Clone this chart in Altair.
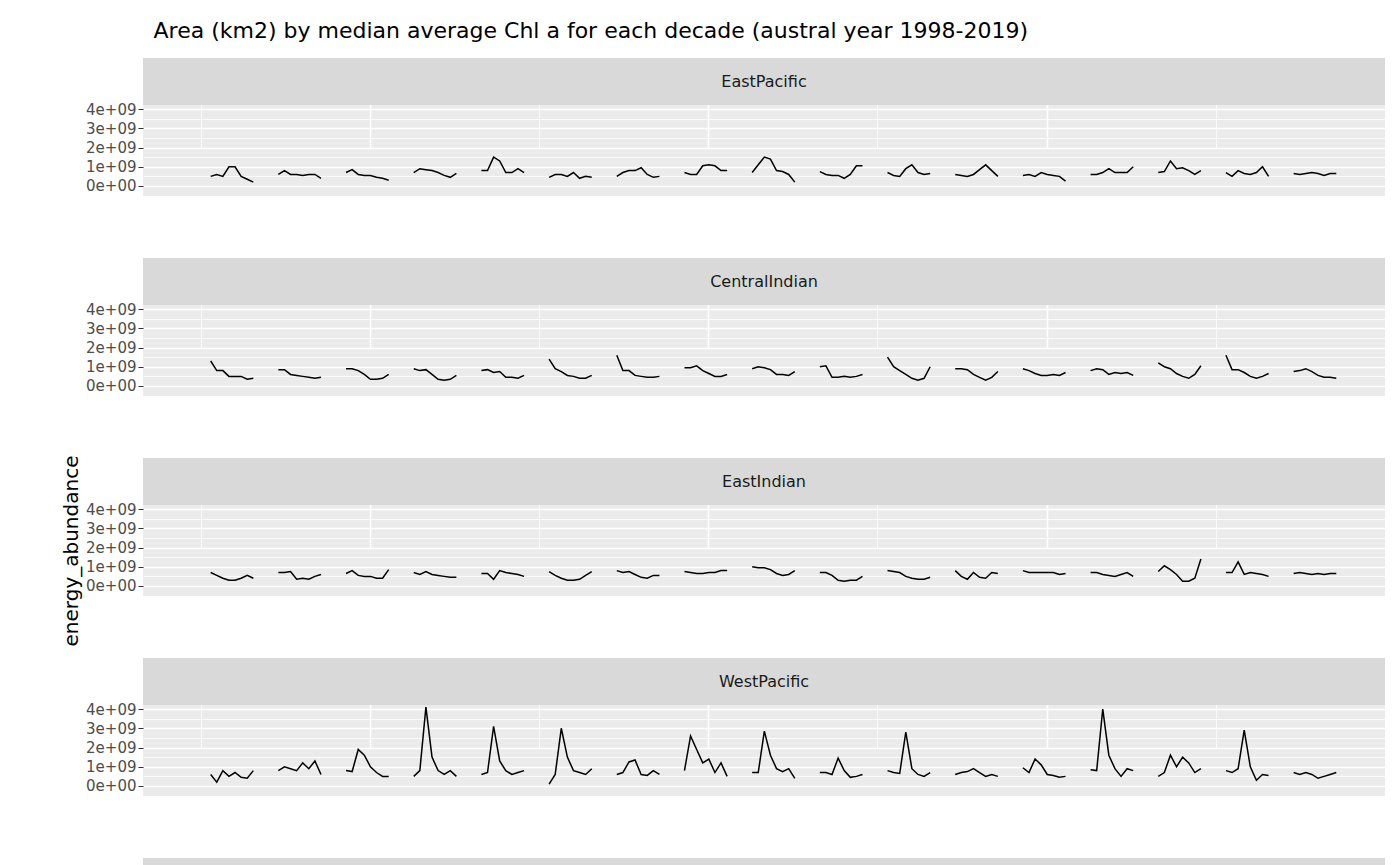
"Faceted energy abundance line chart, ggplot look"

import pandas as pd
import altair as alt

regions = ["EastPacific", "CentralIndian", "EastIndian", "WestPacific", "NA"]
seasons = list(range(2002, 2019))
# fractional year offsets of the 8 points inside each austral season
offsets = [0.65, 0.74, 0.83, 0.92, 1.01, 1.10, 1.19, 1.28]

# values in units of 1e9, one row of 8 per season (2002..2018)
east_pacific = [
    [.5, .6, .5, 1.0, 1.0, .5, .35, .2], [.6, .8, .6, .6, .55, .6, .6, .4],
    [.7, .85, .6, .55, .55, .45, .4, .3], [.7, .9, .85, .8, .7, .55, .45, .65],
    [.8, .8, 1.5, 1.3, .7, .7, .9, .7], [.45, .6, .6, .5, .7, .4, .5, .45],
    [.5, .7, .8, .8, .95, .6, .45, .5], [.7, .6, .6, 1.05, 1.1, 1.05, .8, .8],
    [.7, 1.1, 1.5, 1.4, .8, .75, .6, .2], [.75, .6, .55, .55, .4, .6, 1.05, 1.05],
    [.7, .55, .5, .9, 1.1, .7, .6, .65], [.6, .55, .5, .6, .85, 1.1, .8, .5],
    [.55, .6, .5, .7, .6, .55, .5, .25], [.6, .6, .7, .9, .7, .7, .7, 1.0],
    [.7, .75, 1.3, .9, .95, .8, .6, .8], [.7, .5, .8, .65, .6, .7, 1.0, .5],
    [.65, .6, .65, .7, .65, .55, .65, .65],
]
central_indian = [
    [1.3, .8, .8, .5, .5, .5, .35, .4], [.85, .85, .6, .55, .5, .45, .4, .45],
    [.9, .9, .8, .6, .35, .35, .4, .6], [.9, .8, .85, .6, .35, .3, .35, .55],
    [.8, .85, .7, .75, .45, .45, .4, .55], [1.4, .9, .75, .55, .5, .4, .4, .55],
    [1.6, .8, .8, .55, .5, .45, .45, .5], [.95, .95, 1.05, .8, .65, .5, .5, .6],
    [.9, 1.0, .95, .85, .6, .6, .55, .75], [1.0, 1.05, .45, .45, .5, .45, .5, .6],
    [1.5, 1.0, .8, .6, .4, .3, .4, 1.0], [.9, .9, .85, .6, .45, .3, .45, .75],
    [.9, .8, .65, .55, .55, .6, .55, .7], [.8, .9, .85, .6, .7, .65, .7, .55],
    [1.2, 1.0, .9, .65, .5, .4, .6, 1.05], [1.6, .85, .85, .7, .5, .4, .5, .65],
    [.75, .8, .9, .75, .55, .45, .45, .4],
]
east_indian = [
    [.7, .55, .4, .3, .3, .4, .55, .4], [.7, .7, .75, .35, .4, .35, .5, .6],
    [.65, .8, .55, .5, .5, .4, .4, .85], [.7, .6, .75, .6, .55, .5, .45, .45],
    [.65, .65, .35, .8, .7, .65, .6, .5], [.75, .55, .4, .3, .3, .35, .55, .75],
    [.8, .7, .75, .6, .45, .4, .55, .55], [.75, .7, .65, .65, .7, .7, .8, .8],
    [1.0, .95, .95, .85, .65, .55, .6, .8], [.7, .7, .55, .3, .25, .3, .3, .5],
    [.8, .75, .7, .5, .4, .35, .35, .45], [.8, .5, .35, .7, .45, .4, .7, .65],
    [.8, .7, .7, .7, .7, .7, .6, .65], [.7, .7, .6, .55, .5, .6, .7, .5],
    [.75, 1.05, .85, .6, .25, .25, .4, 1.4], [.7, .7, 1.25, .6, .7, .65, .6, .5],
    [.65, .7, .65, .6, .65, .6, .65, .65],
]
west_pacific = [
    [.6, .2, .8, .5, .7, .45, .4, .8], [.8, 1.0, .9, .8, 1.2, .9, 1.3, .6],
    [.8, .75, 1.9, 1.6, 1.0, .7, .5, .5], [.5, .8, 4.1, 1.5, .8, .6, .8, .5],
    [.6, .7, 3.1, 1.3, .8, .6, .7, .8], [.1, .6, 3.0, 1.5, .8, .7, .6, .9],
    [.6, .7, 1.25, 1.35, .6, .55, .8, .6], [.8, 2.6, 1.9, 1.2, 1.4, .7, 1.2, .5],
    [.7, .7, 2.85, 1.6, .9, .75, .9, .4], [.7, .7, .6, 1.45, .8, .45, .5, .6],
    [.8, .7, .65, 2.8, .9, .6, .5, .7], [.6, .7, .75, .9, .7, .5, .6, .5],
    [.95, .7, 1.4, 1.1, .6, .55, .45, .5], [.85, .8, 4.0, 1.6, .9, .5, .9, .8],
    [.5, .7, 1.6, 1.0, 1.5, 1.2, .7, .9], [.8, .7, .9, 2.9, 1.0, .3, .6, .55],
    [.7, .6, .7, .6, .4, .5, .6, .7],
]
na_region = [
    [1.0, 1.2, 1.4, 1.45, 1.1, .85, .8, .7], [.9, 1.0, 2.1, 1.7, 1.0, .8, .7, .7],
    [1.1, 1.1, 1.2, 1.25, 1.1, .8, .75, .9], [1.0, .9, 1.3, 1.4, 1.3, 1.0, .7, 1.3],
    [1.35, 1.1, 1.3, 1.1, .8, .5, .5, .8], [1.1, 1.1, 1.0, .8, .55, .45, .8, 1.6],
    [1.15, 1.15, 1.6, 1.2, .8, .8, .7, .9], [1.3, 1.1, 1.5, 1.4, 1.0, .9, .9, 1.1],
    [1.4, 1.1, 1.65, 1.65, 1.2, .8, .75, 1.1], [1.1, 1.25, 1.4, 1.6, 1.1, .9, .9, .9],
    [1.1, 1.3, 1.1, 1.15, .8, .8, .75, 1.35], [1.1, 1.0, 1.6, 1.3, 1.0, .7, .8, 1.35],
    [1.05, 1.05, 1.1, 1.0, .85, .7, .5, 1.1], [1.1, 1.4, 1.7, 1.9, 1.3, 1.2, .8, 1.0],
    [1.15, 1.0, 1.1, 1.3, .9, .6, .55, .8], [1.4, 1.1, 1.2, 1.25, .6, .55, .6, 1.0],
    [.95, .9, 1.05, 1.0, .8, .8, .8, .7],
]
series = [east_pacific, central_indian, east_indian, west_pacific, na_region]

rows = []
for region, table in zip(regions, series):
    for season, vals in zip(seasons, table):
        for off, v in zip(offsets, vals):
            rows.append({"region": region, "season": season,
                         "date": season + off, "value": v})
df = pd.DataFrame(rows)

FONT = "DejaVu Sans"
W, PH, SH = 1242, 91, 47
x_ticks = [2002.5, 2005, 2007.5, 2010, 2012.5, 2015, 2017.5]
y_ticks = [0, 0.5, 1, 1.5, 2, 2.5, 3, 3.5, 4]


def panel(region, last, middle):
    "One facet: grey strip on top of a line panel, in one view"
    label = pd.DataFrame({"t": [region]})
    x_axis = alt.Axis(
        values=x_ticks, title="date" if last else None,
        labels=last,
        labelExpr="datum.value % 5 == 0 ? format(datum.value, 'd') : ''",
        gridColor="white", gridWidth={"expr": "datum.value % 5 == 0 ? 1.6 : 0.8"},
        ticks=last, tickColor="#333333",
        tickOpacity={"expr": "datum.value % 5 == 0 ? 1 : 0"},
        domain=False, labelFont=FONT, labelFontSize=15, labelColor="#4D4D4D",
        titleFont=FONT, titleFontSize=20, titleFontWeight="normal",
        titleColor="black", labelFlush=False)
    y_axis = alt.Axis(
        values=y_ticks, title="energy_abundance",
        titleColor="black" if middle else "transparent",
        labelExpr="datum.value % 1 == 0 ? (datum.value == 0 ? '0e+00' : format(datum.value, 'd') + 'e+09') : ''",
        gridColor="white", gridWidth={"expr": "datum.value % 1 == 0 ? 1.6 : 0.8"},
        tickColor="#333333",
        tickOpacity={"expr": "datum.value % 1 == 0 ? 1 : 0"},
        domain=False, labelFont=FONT, labelFontSize=15, labelColor="#4D4D4D",
        titleFont=FONT, titleFontSize=20, titleFontWeight="normal")
    lines = alt.Chart(df[df.region == region]).mark_line(
        color="black", strokeWidth=1.5).encode(
        x=alt.X("date:Q", scale=alt.Scale(domain=[2001.65, 2020.0], nice=False, zero=False),
                axis=x_axis),
        y=alt.Y("value:Q", scale=alt.Scale(domain=[-0.52, 4.21], nice=False, zero=False,
                                           range=[PH + SH, SH]),
                axis=y_axis),
        detail="season:N",
    )
    strip = alt.Chart(label).mark_rect(color="#D9D9D9").encode(
        x=alt.value(0), x2=alt.value(W), y=alt.value(0), y2=alt.value(SH))
    text = alt.Chart(label).mark_text(
        font=FONT, fontSize=16, color="#1A1A1A").encode(
        text="t:N", x=alt.value(W / 2), y=alt.value(SH / 2))
    return alt.layer(lines, strip, text).properties(width=W, height=PH + SH)


chart = alt.vconcat(
    *[panel(r, i == len(regions) - 1, i == 2) for i, r in enumerate(regions)],
    spacing=9,
).properties(
    title=alt.Title("Area (km2) by median average Chl a for each decade (austral year 1998-2019)",
                    anchor="start", font=FONT, fontSize=22, fontWeight="normal",
                    color="black", offset=12, dx=92),
    padding={"left": 53, "top": 12, "right": 5, "bottom": 5},
    background="white",
).configure_view(fill="#EBEBEB", stroke=None)

chart.save("out.html", embed_options={"renderer": "svg", "actions": False})
